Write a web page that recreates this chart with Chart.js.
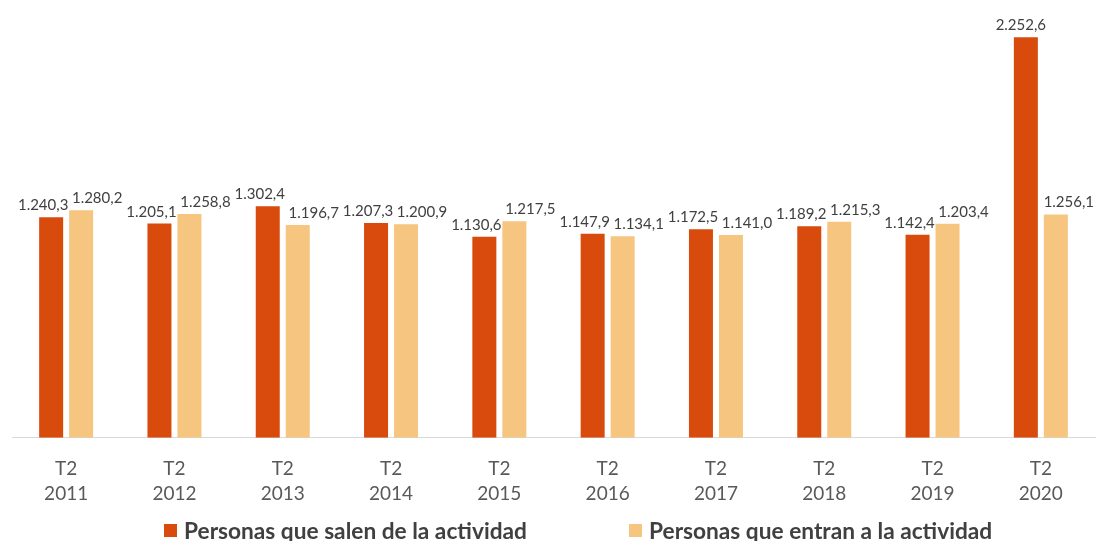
<!DOCTYPE html>
<html lang="es">
<head>
<meta charset="UTF-8">
<title>Personas que salen y entran de la actividad</title>
<script src="https://cdn.jsdelivr.net/npm/chart.js"></script>
<style>
  html, body { margin: 0; padding: 0; background: #fff; overflow: hidden; }
  .chart-container { position: relative; width: 1098px; height: 541px; }
  /* legend drawn in html so the wide gap between the two items can be kept */
  .legend { position: absolute; top: 517px; left: 0; width: 1098px; height: 24px;
            font-family: Lato, sans-serif; font-weight: bold; font-size: 22.7px; color: #404040; }
  .legend-item { position: absolute; top: 0; display: flex; align-items: center; white-space: nowrap; }
  .legend-item span.box { display: inline-block; width: 13px; height: 13px; margin-right: 7px; }
</style>
</head>
<body>
<div class="chart-container">
  <canvas id="flowChart"></canvas>
  <div class="legend" id="legend"></div>
</div>
<script>
// data (thousands of people)
const quarters = ['T2', 'T2', 'T2', 'T2', 'T2', 'T2', 'T2', 'T2', 'T2', 'T2'];
const years = ['2011', '2012', '2013', '2014', '2015', '2016', '2017', '2018', '2019', '2020'];
const salen = [1240.3, 1205.1, 1302.4, 1207.3, 1130.6, 1147.9, 1172.5, 1189.2, 1142.4, 2252.6];
const entran = [1280.2, 1258.8, 1196.7, 1200.9, 1217.5, 1134.1, 1141.0, 1215.3, 1203.4, 1256.1];
const seriesNames = ['Personas que salen de la actividad', 'Personas que entran a la actividad'];
const seriesColors = ['#d94a0d', '#f6c580'];

const labels = years.map((y, i) => [quarters[i], y]);

// spanish number format: 1.240,3
function fmt(v) {
    const parts = v.toFixed(1).split('.');
    return parts[0].replace(/\B(?=(\d{3})+(?!\d))/g, '.') + ',' + parts[1];
}

// draws the value above each bar, nudged apart like the original
const valueLabels = {
    id: 'valueLabels',
    afterDatasetsDraw(chart) {
        const ctx = chart.ctx;
        ctx.save();
        ctx.font = '15px Lato';
        ctx.fillStyle = '#404040';
        ctx.textAlign = 'center';
        ctx.textBaseline = 'alphabetic';
        chart.data.datasets.forEach((ds, di) => {
            const meta = chart.getDatasetMeta(di);
            const shift = di === 0 ? -8 : 16;
            meta.data.forEach((bar, i) => {
                let dx = shift;
                if (di === 0 && i === 9) dx = -5;
                if (di === 1 && i === 9) dx = 13;
                ctx.fillText(fmt(ds.data[i]), bar.x + dx, bar.y - 7);
            });
        });
        ctx.restore();
    }
};

const ctx = document.getElementById('flowChart').getContext('2d');
const flowChart = new Chart(ctx, {
    type: 'bar',
    data: {
        labels: labels,
        datasets: [{
            label: seriesNames[0],
            data: salen,
            backgroundColor: seriesColors[0]
        }, {
            label: seriesNames[1],
            data: entran,
            backgroundColor: seriesColors[1]
        }]
    },
    options: {
        responsive: true,
        maintainAspectRatio: false,
        animation: false,
        categoryPercentage: 0.554,
        barPercentage: 0.8,
        layout: { padding: { top: 11, left: 12, right: 3, bottom: 25 } },
        scales: {
            x: {
                grid: { display: false },
                border: { display: true, color: '#d9d9d9', width: 1 },
                ticks: {
                    color: '#595959',
                    font: { family: 'Lato', size: 19, lineHeight: 1.32 },
                    padding: 10
                }
            },
            y: {
                display: false,
                min: 0,
                max: 2400
            }
        },
        plugins: {
            legend: { display: false },
            tooltip: { enabled: false }
        }
    },
    plugins: [valueLabels]
});

// build the legend
const legendEl = document.getElementById('legend');
const legendLeft = [164, 629];
seriesNames.forEach((name, i) => {
    const item = document.createElement('div');
    item.className = 'legend-item';
    item.style.left = legendLeft[i] + 'px';
    item.innerHTML = '<span class="box" style="background:' + seriesColors[i] + '"></span>' + name;
    legendEl.appendChild(item);
});
</script>
</body>
</html>
